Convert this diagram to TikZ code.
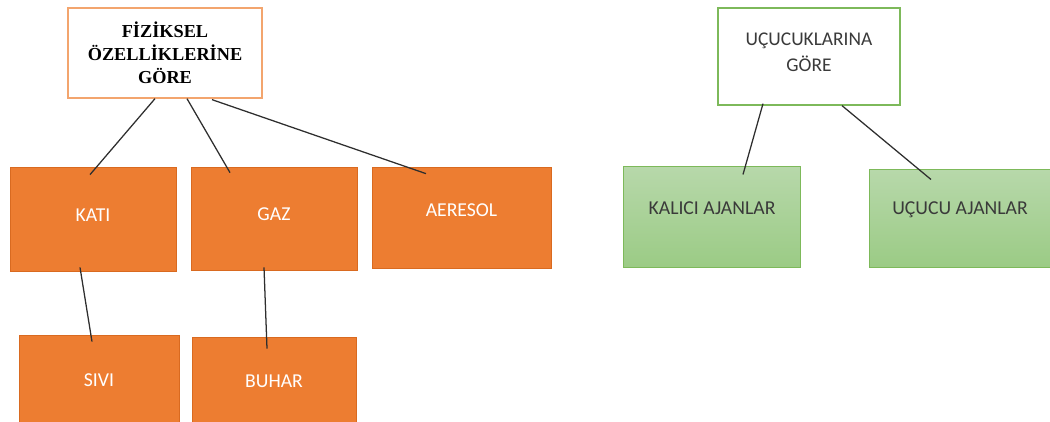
\documentclass[tikz,border=0pt]{standalone}
\usepackage{fontspec}
\setmainfont{Carlito}
\newfontfamily\titleserif{Liberation Serif}
\usepackage{tikz}
\usetikzlibrary{calc,
    positioning}

\definecolor{ofill}{HTML}{ED7D31}
\definecolor{oline}{HTML}{D96A20}
\definecolor{otop}{HTML}{F3A56E}
\definecolor{gline}{HTML}{7DB95A}
\definecolor{gtop}{HTML}{B7D8AA}
\definecolor{gbot}{HTML}{9BCB85}
\definecolor{gtext}{HTML}{3A3A3A}
\definecolor{lnk}{HTML}{2E2E2E}

\tikzset{
    headbox/.style={draw, fill=white, line width=0.9pt, align=center, inner sep=0pt},
    obox/.style={draw=oline, fill=ofill, line width=0.5pt, inner sep=0pt},
    gbox/.style={draw=gline, top color=gtop, bottom color=gbot, line width=0.7pt, inner sep=0pt},
    otext/.style={text=white, font=\fontsize{14}{16}\selectfont},
    gtxt/.style={text=gtext, font=\fontsize{14}{16}\selectfont},
    link/.style={draw=lnk, line width=0.9pt}
}

\begin{document}
\begin{tikzpicture}[x=0.025cm, y=-0.025cm]
                  \useasboundingbox (0,0) rectangle (1050,421);
                  \node[headbox, draw=otop, minimum width=4.85cm, minimum height=2.25cm,
                        font=\titleserif\bfseries\fontsize{13}{16.2}\selectfont] (fiz) at (165,53)
                        {F\.IZ\.IKSEL\\\"OZELL\.IKLER\.INE\\G\"ORE};
                  \node[headbox, draw=gline, minimum width=4.55cm, minimum height=2.425cm,
                        text=gtext, font=\fontsize{13.8}{16.4}\selectfont] (ucuk) at (809,56.5)
                        {\raisebox{6pt}{\shortstack{UÇUCUKLARINA\\[2pt]GÖRE}}};
                  \node[obox, minimum width=4.15cm, minimum height=2.6cm,
                        label={[otext, yshift=3pt]center:KATI}] (kati) at (93,219) {};
                  \node[obox, minimum width=4.15cm, minimum height=2.575cm,
                        label={[otext, yshift=3pt]center:GAZ}] (gaz) at (274,218.5) {};
                  \node[obox, minimum width=4.475cm, minimum height=2.525cm,
                        label={[otext, yshift=5pt]center:AERESOL}] (aer) at (461.5,217.5) {};
                  \node[obox, minimum width=4cm, minimum height=2.625cm,
                        label={[otext, yshift=5pt]center:SIVI}] (sivi) at (99,387.5) {};
                  \node[obox, minimum width=4.1cm, minimum height=2.625cm,
                        label={[otext, yshift=6pt]center:BUHAR}] (buhar) at (274,389.5) {};
                  \node[gbox, minimum width=4.4cm, minimum height=2.5cm,
                        label={[gtxt, yshift=6pt]center:KALICI AJANLAR}] (kalici) at (712,217) {};
                  \node[gbox, minimum width=4.5cm, minimum height=2.425cm,
                        label={[gtxt, yshift=6pt]center:UÇUCU AJANLAR}] (ucucu) at (960,218.5) {};
                  \draw[link] ($(fiz.south)+(-10,0)$) -- ($(kati.north)+(-3,8)$);
                  \draw[link] ($(fiz.south)+(22,0)$) -- ($(gaz.north)+(-44,6)$);
                  \draw[link] ($(fiz.south)+(47,1)$) -- ($(aer.north)+(-35.5,7)$);
                  \draw[link] ($(kati.south)+(-13,-4)$) -- ($(sivi.north)+(-7,7)$);
                  \draw[link] ($(gaz.south)+(-10,-3)$) -- ($(buhar.north)+(-7,12)$);
                  \draw[link] ($(ucuk.south)+(-46,-2)$) -- ($(kalici.north)+(31,8)$);
                  \draw[link] ($(ucuk.south)+(33,0)$) -- ($(ucucu.north)+(-29,10)$);
              \end{tikzpicture}
\end{document}
